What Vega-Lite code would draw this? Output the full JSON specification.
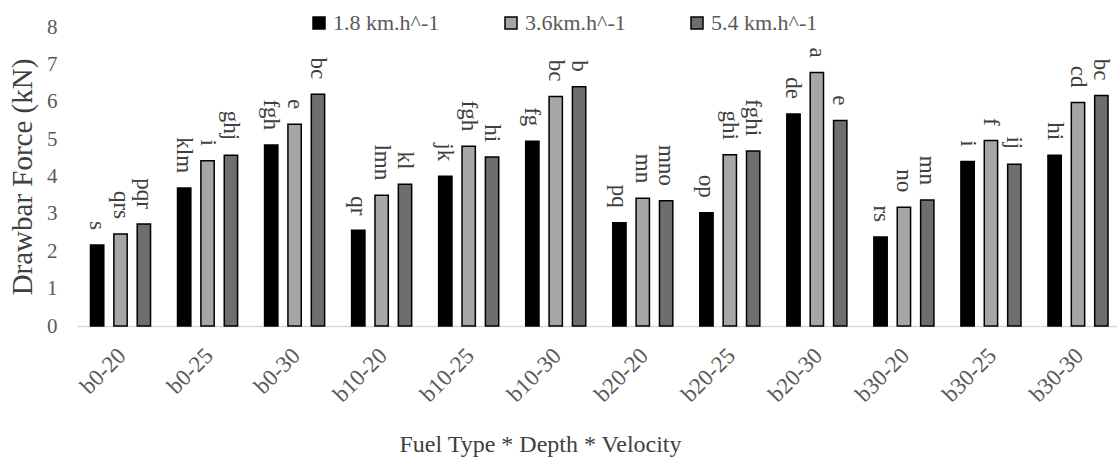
{
  "$schema": "https://vega.github.io/schema/vega-lite/v6.json",
  "width": 1040,
  "height": 299,
  "autosize": {"type": "none"},
  "padding": {"left": 77, "top": 27, "right": 0, "bottom": 133},
  "background": "white",
  "config": {"view": {"stroke": null}, "font": "Liberation Serif"},
  "data": {
    "values": [
      {"cat": "b0-20", "speed": "1.8 km.h^-1", "value": 2.17, "letter": "s"},
      {"cat": "b0-20", "speed": "3.6km.h^-1", "value": 2.46, "letter": "qrs"},
      {"cat": "b0-20", "speed": "5.4 km.h^-1", "value": 2.73, "letter": "pqr"},
      {"cat": "b0-25", "speed": "1.8 km.h^-1", "value": 3.69, "letter": "klm"},
      {"cat": "b0-25", "speed": "3.6km.h^-1", "value": 4.42, "letter": "i"},
      {"cat": "b0-25", "speed": "5.4 km.h^-1", "value": 4.57, "letter": "ghj"},
      {"cat": "b0-30", "speed": "1.8 km.h^-1", "value": 4.84, "letter": "fgh"},
      {"cat": "b0-30", "speed": "3.6km.h^-1", "value": 5.40, "letter": "e"},
      {"cat": "b0-30", "speed": "5.4 km.h^-1", "value": 6.20, "letter": "bc"},
      {"cat": "b10-20", "speed": "1.8 km.h^-1", "value": 2.56, "letter": "qr"},
      {"cat": "b10-20", "speed": "3.6km.h^-1", "value": 3.50, "letter": "lmn"},
      {"cat": "b10-20", "speed": "5.4 km.h^-1", "value": 3.79, "letter": "kl"},
      {"cat": "b10-25", "speed": "1.8 km.h^-1", "value": 4.01, "letter": "jk"},
      {"cat": "b10-25", "speed": "3.6km.h^-1", "value": 4.81, "letter": "fgh"},
      {"cat": "b10-25", "speed": "5.4 km.h^-1", "value": 4.52, "letter": "hi"},
      {"cat": "b10-30", "speed": "1.8 km.h^-1", "value": 4.94, "letter": "fg"},
      {"cat": "b10-30", "speed": "3.6km.h^-1", "value": 6.14, "letter": "bc"},
      {"cat": "b10-30", "speed": "5.4 km.h^-1", "value": 6.40, "letter": "b"},
      {"cat": "b20-20", "speed": "1.8 km.h^-1", "value": 2.76, "letter": "pq"},
      {"cat": "b20-20", "speed": "3.6km.h^-1", "value": 3.42, "letter": "mn"},
      {"cat": "b20-20", "speed": "5.4 km.h^-1", "value": 3.35, "letter": "mno"},
      {"cat": "b20-25", "speed": "1.8 km.h^-1", "value": 3.03, "letter": "op"},
      {"cat": "b20-25", "speed": "3.6km.h^-1", "value": 4.58, "letter": "ghi"},
      {"cat": "b20-25", "speed": "5.4 km.h^-1", "value": 4.68, "letter": "fghi"},
      {"cat": "b20-30", "speed": "1.8 km.h^-1", "value": 5.67, "letter": "de"},
      {"cat": "b20-30", "speed": "3.6km.h^-1", "value": 6.78, "letter": "a"},
      {"cat": "b20-30", "speed": "5.4 km.h^-1", "value": 5.50, "letter": "e"},
      {"cat": "b30-20", "speed": "1.8 km.h^-1", "value": 2.38, "letter": "rs"},
      {"cat": "b30-20", "speed": "3.6km.h^-1", "value": 3.18, "letter": "no"},
      {"cat": "b30-20", "speed": "5.4 km.h^-1", "value": 3.37, "letter": "mn"},
      {"cat": "b30-25", "speed": "1.8 km.h^-1", "value": 4.40, "letter": "i"},
      {"cat": "b30-25", "speed": "3.6km.h^-1", "value": 4.96, "letter": "f"},
      {"cat": "b30-25", "speed": "5.4 km.h^-1", "value": 4.33, "letter": "ij"},
      {"cat": "b30-30", "speed": "1.8 km.h^-1", "value": 4.57, "letter": "hi"},
      {"cat": "b30-30", "speed": "3.6km.h^-1", "value": 5.98, "letter": "cd"},
      {"cat": "b30-30", "speed": "5.4 km.h^-1", "value": 6.17, "letter": "bc"}
    ]
  },
  "encoding": {
    "x": {
      "field": "cat",
      "type": "nominal",
      "sort": null,
      "scale": {"paddingInner": 0.31, "paddingOuter": 0.129, "align": 0.6},
      "axis": {
        "title": "Fuel Type * Depth * Velocity",
        "labelAngle": -45,
        "labelFontSize": 23,
        "labelColor": "#595959",
        "labelPadding": 18,
        "labelOffset": -6,
        "ticks": false,
        "domainColor": "#d9d9d9",
        "domainWidth": 1.5,
        "titleFontSize": 24,
        "titleFontWeight": "normal",
        "titleColor": "#404040",
        "titleX": 463,
        "titleY": 125,
        "titleBaseline": "alphabetic"
      }
    },
    "xOffset": {
      "field": "speed",
      "type": "nominal",
      "sort": ["1.8 km.h^-1", "3.6km.h^-1", "5.4 km.h^-1"],
      "scale": {"paddingInner": 0.43, "paddingOuter": 0}
    },
    "y": {
      "field": "value",
      "type": "quantitative",
      "scale": {"domain": [0, 8], "nice": false},
      "axis": {
        "title": "Drawbar Force (kN)",
        "values": [0, 1, 2, 3, 4, 5, 6, 7, 8],
        "grid": false,
        "domain": false,
        "ticks": false,
        "labelPadding": 20,
        "labelFontSize": 21,
        "labelColor": "#595959",
        "titleFontSize": 29,
        "titleFontWeight": "normal",
        "titleColor": "#404040",
        "titleX": -55,
        "titleBaseline": "middle"
      }
    }
  },
  "layer": [
    {
      "mark": {"type": "bar", "stroke": "black", "strokeWidth": 1.5},
      "encoding": {
        "fill": {
          "field": "speed",
          "type": "nominal",
          "scale": {
            "domain": ["1.8 km.h^-1", "3.6km.h^-1", "5.4 km.h^-1"],
            "range": ["#000000", "#a6a6a6", "#6e6e6e"]
          },
          "legend": {
            "title": null,
            "orient": "none",
            "legendX": 231,
            "legendY": -15,
            "direction": "horizontal",
            "symbolType": "square",
            "symbolSize": 144,
            "symbolStrokeColor": "black",
            "symbolStrokeWidth": 1.5,
            "labelFontSize": 22,
            "labelColor": "#595959",
            "labelOffset": 3,
            "columnPadding": 60,
            "padding": 0
          }
        }
      }
    },
    {
      "mark": {"type": "text", "angle": 90, "align": "right", "baseline": "middle", "dx": -15, "fontSize": 23, "color": "#404040"},
      "encoding": {"text": {"field": "letter"}}
    }
  ]
}
